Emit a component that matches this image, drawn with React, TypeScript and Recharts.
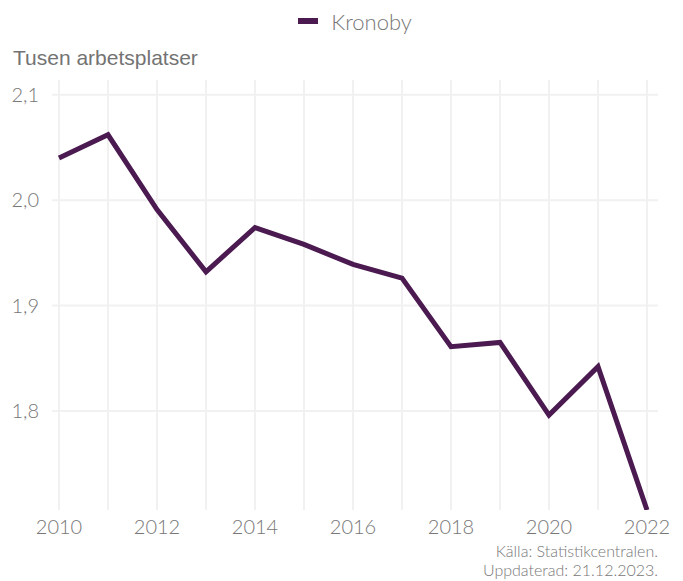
import React from 'react';
import { LineChart, Line, XAxis, YAxis, CartesianGrid, Legend } from 'recharts';

const years = [2010, 2011, 2012, 2013, 2014, 2015, 2016, 2017, 2018, 2019, 2020, 2021, 2022];
const kronoby = [2.040, 2.062, 1.991, 1.932, 1.974, 1.958, 1.939, 1.926, 1.861, 1.865, 1.796, 1.842, 1.706];
const yTicks = [1.8, 1.9, 2.0, 2.1];
const seriesName = 'Kronoby';
const yTitle = 'Tusen arbetsplatser';
const sourceLines = ['Källa: Statistikcentralen.', 'Uppdaterad: 21.12.2023.'];

const data = years.map((year, i) => ({ year, value: kronoby[i] }));

const LINE_COLOR = '#4b1a50';
const TICK_FONT = 'Lato, "Open Sans", "Noto Sans", sans-serif';

const renderLegend = () => (
  <div style={{ display: 'flex', justifyContent: 'center', alignItems: 'center', height: 30, fontFamily: TICK_FONT, fontWeight: 300 }}>
    <span style={{ display: 'inline-block', width: 20, height: 6, background: LINE_COLOR, marginRight: 13 }} />
    <span style={{ fontSize: 22, color: '#777' }}>{seriesName}</span>
  </div>
);

export default function App() {
  return (
    <div style={{ position: 'absolute', left: 0, top: 0, width: 683, height: 581, background: '#fff' }}>
      <LineChart width={683} height={581} data={data} margin={{ top: 50, right: 25, bottom: 41, left: 0 }}>
        <Legend verticalAlign="top" align="center" content={renderLegend} wrapperStyle={{ top: 6, left: 52, width: 606 }} />
        <CartesianGrid stroke="#f1f1f1" strokeWidth={2} syncWithTicks />
        <XAxis
          dataKey="year"
          type="number"
          domain={[2010, 2022]}
          ticks={years}
          interval={0}
          padding={{ left: 7, right: 11 }}
          axisLine={false}
          tickLine={false}
          tickMargin={4}
          height={30}
          tickFormatter={(v: number) => (v % 2 === 0 ? String(v) : '')}
          tick={{ fill: '#777', fontSize: 20, fontFamily: TICK_FONT, fontWeight: 300 }}
        />
        <YAxis
          type="number"
          domain={[1.706, 2.114]}
          ticks={yTicks}
          width={52}
          axisLine={false}
          tickLine={false}
          tickMargin={7}
          allowDataOverflow
          tickFormatter={(v: number) => v.toFixed(1).replace('.', ',')}
          tick={{ fill: '#777', fontSize: 20, fontFamily: TICK_FONT, fontWeight: 300 }}
        />
        <Line
          type="linear"
          dataKey="value"
          name={seriesName}
          stroke={LINE_COLOR}
          strokeWidth={5}
          dot={false}
          activeDot={false}
          isAnimationActive={false}
        />
      </LineChart>
      <div style={{ position: 'absolute', left: 13, top: 46, fontFamily: '"Liberation Sans", Arial, sans-serif', fontSize: 21, color: '#737373', whiteSpace: 'nowrap' }}>
        {yTitle}
      </div>
      <div style={{ position: 'absolute', right: 25, top: 541, textAlign: 'right', fontFamily: TICK_FONT, fontWeight: 300, fontSize: 16, lineHeight: '19px', color: '#777' }}>
        {sourceLines.map((s) => (
          <div key={s}>{s}</div>
        ))}
      </div>
    </div>
  );
}
